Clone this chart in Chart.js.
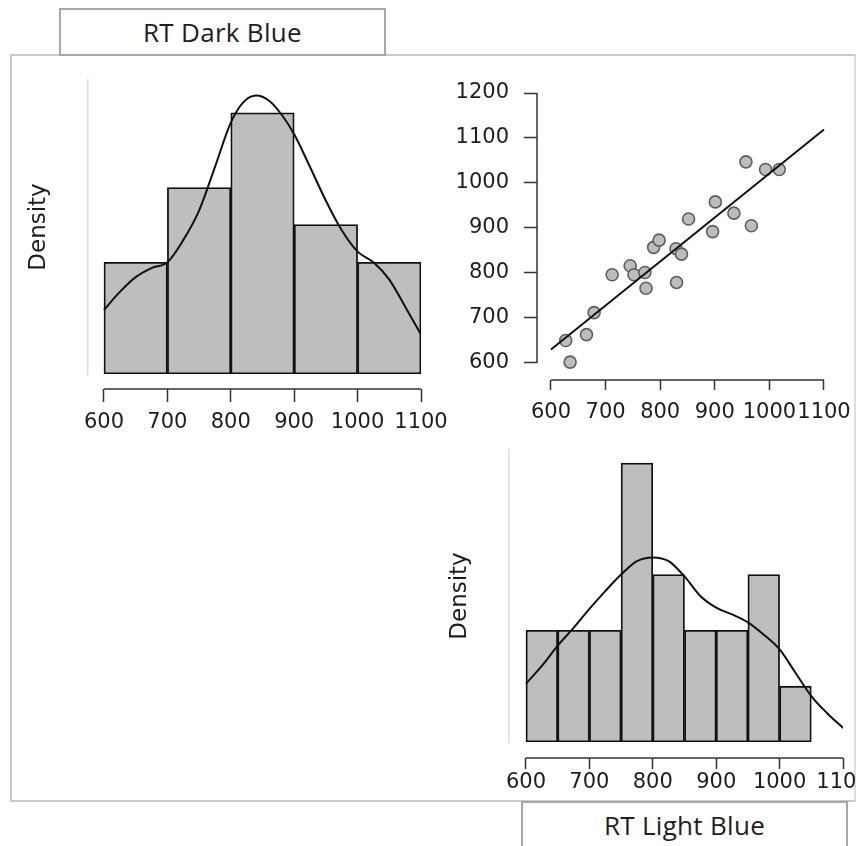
<!DOCTYPE html>
<html>
<head>
<meta charset="utf-8">
<script src="https://cdn.jsdelivr.net/npm/chart.js@4.4.1/dist/chart.umd.min.js"></script>
<style>
  html, body { margin: 0; padding: 0; width: 856px; height: 846px; overflow: hidden; background: #fff; }
  body { position: relative; }
  .frame { position: absolute; left: 10px; top: 54px; width: 846px; height: 748px; box-sizing: border-box; border: 2px solid #c9c9c9; border-right-color: #dedede; }
  .lab { position: absolute; box-sizing: border-box; border: 2px solid #a8a8a8; background: #fff; text-align: center;
         font-family: "Open Sans", "Noto Sans", sans-serif; font-size: 26px; letter-spacing: 0.3px; color: #1e1e1e; }
  canvas { position: absolute; }
</style>
</head>
<body>
<div class="frame"></div>
<div class="lab" style="left:59px; top:8px; width:327px; height:48px; line-height:44px;">RT Dark Blue</div>
<div class="lab" style="left:521px; top:801px; width:327px; height:60px; line-height:44px;">RT Light Blue</div>

<canvas id="histDark" width="470" height="380" style="left:0px; top:60px;"></canvas>
<canvas id="scatter" width="440" height="380" style="left:430px; top:60px;"></canvas>
<canvas id="histLight" width="470" height="406" style="left:430px; top:440px;"></canvas>

<script>
// ---------- data ----------
const xTickValues = [600, 700, 800, 900, 1000, 1100];
const yTickValuesScatter = [600, 700, 800, 900, 1000, 1100, 1200];

// RT Dark Blue histogram (bin width 100)
const darkBinMids = [650, 750, 850, 950, 1050];
const darkDensity = [0.00136, 0.00227, 0.00318, 0.00182, 0.00136];
// RT Dark Blue density curve
const darkCurveX = [600, 625, 650, 675, 700, 725, 750, 775, 800, 820, 840, 860, 880, 900, 925, 950, 975, 1000, 1025, 1050, 1075, 1100];
const darkCurveY = [0.00078, 0.00100, 0.00118, 0.00129, 0.00136, 0.00163, 0.00199, 0.00252, 0.00306, 0.00331, 0.00339, 0.00333, 0.00316, 0.00292, 0.00252, 0.00211, 0.00175, 0.00149, 0.00136, 0.00115, 0.00082, 0.00048];

// RT Light Blue histogram (bin width 50)
const lightBinMids = [625, 675, 725, 775, 825, 875, 925, 975, 1025];
const lightDensity = [0.00182, 0.00182, 0.00182, 0.00455, 0.00273, 0.00182, 0.00182, 0.00273, 0.00091];
// RT Light Blue density curve
const lightCurveX = [600, 625, 650, 675, 700, 725, 750, 775, 800, 825, 850, 875, 900, 925, 950, 975, 1000, 1025, 1050, 1075, 1100];
const lightCurveY = [0.00095, 0.00124, 0.00157, 0.00186, 0.00217, 0.00246, 0.00273, 0.00295, 0.00301, 0.00295, 0.00270, 0.00238, 0.00219, 0.00208, 0.00195, 0.00175, 0.00151, 0.00113, 0.00075, 0.00047, 0.00023];

// Scatter: x = RT Light Blue, y = RT Dark Blue
const lightRT = [627, 635, 665, 679, 712, 745, 752, 772, 774, 788, 798, 829, 839, 830, 852, 901, 896, 935, 967, 957, 993, 1018];
const darkRT  = [650, 602, 663, 712, 796, 816, 796, 801, 766, 857, 873, 854, 842, 779, 920, 958, 892, 933, 905, 1047, 1030, 1030];
// fitted regression line end points
const fitX = [600, 1100];
const fitY = [630, 1119];

// ---------- styling ----------
const TICK_FONT = { family: "'DejaVu Sans', sans-serif", size: 21 };
const TEXT_COLOR = '#1e1e1e';
const AXIS_COLOR = '#333333';

const rAxisLines = {
  id: 'rAxisLines',
  afterDraw(chart, args, opts) {
    const { ctx, chartArea, scales } = chart;
    ctx.save();
    ctx.strokeStyle = opts.color || AXIS_COLOR;
    ctx.lineWidth = opts.width || 1.5;
    ctx.lineCap = 'butt';
    if (opts.x) {
      const s = scales.x, t = s.ticks;
      const y = chartArea.bottom + (opts.x.gap || 0);
      ctx.beginPath();
      ctx.moveTo(s.getPixelForValue(t[0].value), y);
      ctx.lineTo(s.getPixelForValue(t[t.length - 1].value), y);
      ctx.stroke();
    }
    if (opts.y) {
      const s = scales.y, t = s.ticks;
      const x = chartArea.left - (opts.y.gap || 0);
      ctx.beginPath();
      ctx.moveTo(x, s.getPixelForValue(t[0].value));
      ctx.lineTo(x, s.getPixelForValue(t[t.length - 1].value));
      ctx.stroke();
    }
    ctx.restore();
  }
};

function pts(xs, ys) { return xs.map((x, i) => ({ x: x, y: ys[i] })); }

function histChart(id, mids, dens, cx, cy, cfg) {
  return new Chart(document.getElementById(id), {
    type: 'bar',
    data: {
      datasets: [
        {
          type: 'line',
          data: pts(cx, cy),
          borderColor: '#111',
          borderWidth: 2,
          pointRadius: 0,
          fill: false,
          cubicInterpolationMode: 'monotone',
          order: 1
        },
        {
          type: 'bar',
          data: pts(mids, dens),
          backgroundColor: '#bebebe',
          borderColor: '#111',
          borderWidth: 1.8,
          borderSkipped: false,
          barPercentage: 1,
          categoryPercentage: 1,
          grouped: false,
          order: 2
        }
      ]
    },
    options: {
      responsive: false,
      animation: false,
      devicePixelRatio: 1,
      layout: { padding: { left: 0, top: cfg.padTop, right: cfg.padRight, bottom: 0 } },
      plugins: {
        legend: { display: false },
        tooltip: { enabled: false },
        rAxisLines: { x: { gap: cfg.gap }, color: AXIS_COLOR, width: 1.5 }
      },
      scales: {
        x: {
          type: 'linear',
          min: cfg.xMin, max: 1100,
          offset: false,
          grid: { offset: false, drawOnChartArea: false, drawTicks: true,
                  tickLength: cfg.gap + cfg.tick, tickColor: AXIS_COLOR, tickWidth: 1.5,
                  tickBorderDash: [0, cfg.gap, cfg.tick, 200] },
          border: { display: false },
          ticks: { autoSkip: false, maxRotation: 0, minRotation: 0, padding: cfg.labelPad,
                   font: TICK_FONT, color: TEXT_COLOR, callback: v => String(v) },
          afterBuildTicks: s => { s.ticks = xTickValues.map(v => ({ value: v })); },
          afterFit: s => { s.height = cfg.xHeight; }
        },
        y: {
          type: 'linear',
          min: 0, max: cfg.yMax,
          ticks: { display: false },
          grid: { display: false, drawTicks: false },
          border: { display: true, color: '#dcdcdc', width: 1.5 },
          title: { display: true, text: 'Density', color: TEXT_COLOR,
                   font: { family: "'DejaVu Sans', sans-serif", size: 23 },
                   padding: { top: cfg.titlePad, bottom: 0 } },
          afterFit: s => { s.width = cfg.yWidth; }
        }
      }
    },
    plugins: [rAxisLines]
  });
}

histChart('histDark', darkBinMids, darkDensity, darkCurveX, darkCurveY, {
  padTop: 20, padRight: 49, xMin: 574.8, yMax: 0.00358,
  gap: 15, tick: 13, labelPad: 8, xHeight: 66, yWidth: 88, titlePad: 25
});

histChart('histLight', lightBinMids, lightDensity, lightCurveX, lightCurveY, {
  padTop: 10, padRight: 57, xMin: 573.2, yMax: 0.004762,
  gap: 16, tick: 11, labelPad: 1, xHeight: 104, yWidth: 79, titlePad: 16
});

new Chart(document.getElementById('scatter'), {
  type: 'scatter',
  data: {
    datasets: [
      {
        type: 'line',
        data: pts(fitX, fitY),
        borderColor: '#111',
        borderWidth: 2,
        pointRadius: 0,
        fill: false,
        order: 0
      },
      {
        type: 'scatter',
        data: pts(lightRT, darkRT),
        pointRadius: 6,
        pointStyle: 'circle',
        backgroundColor: '#bdbdbd',
        borderColor: '#5e5e5e',
        borderWidth: 1.6,
        order: 1
      }
    ]
  },
  options: {
    responsive: false,
    animation: false,
    devicePixelRatio: 1,
    layout: { padding: { left: 0, top: 33, right: 40, bottom: 0 } },
    plugins: {
      legend: { display: false },
      tooltip: { enabled: false },
      rAxisLines: { x: { gap: 0 }, y: { gap: 0 }, color: AXIS_COLOR, width: 1.5 }
    },
    scales: {
      x: {
        type: 'linear', min: 574.4, max: 1111,
        grid: { drawOnChartArea: false, drawTicks: true, tickLength: 10, tickColor: AXIS_COLOR, tickWidth: 1.5 },
        border: { display: false },
        ticks: { autoSkip: false, maxRotation: 0, minRotation: 0, padding: 10,
                 font: TICK_FONT, color: TEXT_COLOR, callback: v => String(v) },
        afterBuildTicks: s => { s.ticks = xTickValues.map(v => ({ value: v })); },
        afterFit: s => { s.height = 60; }
      },
      y: {
        type: 'linear', min: 562.2, max: 1200,
        grid: { drawOnChartArea: false, drawTicks: true, tickLength: 13, tickColor: AXIS_COLOR, tickWidth: 1.5 },
        border: { display: false },
        ticks: { autoSkip: false, padding: 15, font: TICK_FONT, color: TEXT_COLOR, callback: v => String(v) },
        afterBuildTicks: s => { s.ticks = yTickValuesScatter.map(v => ({ value: v })); },
        afterFit: s => { s.width = 107; }
      }
    }
  },
  plugins: [rAxisLines]
});
</script>
</body>
</html>
